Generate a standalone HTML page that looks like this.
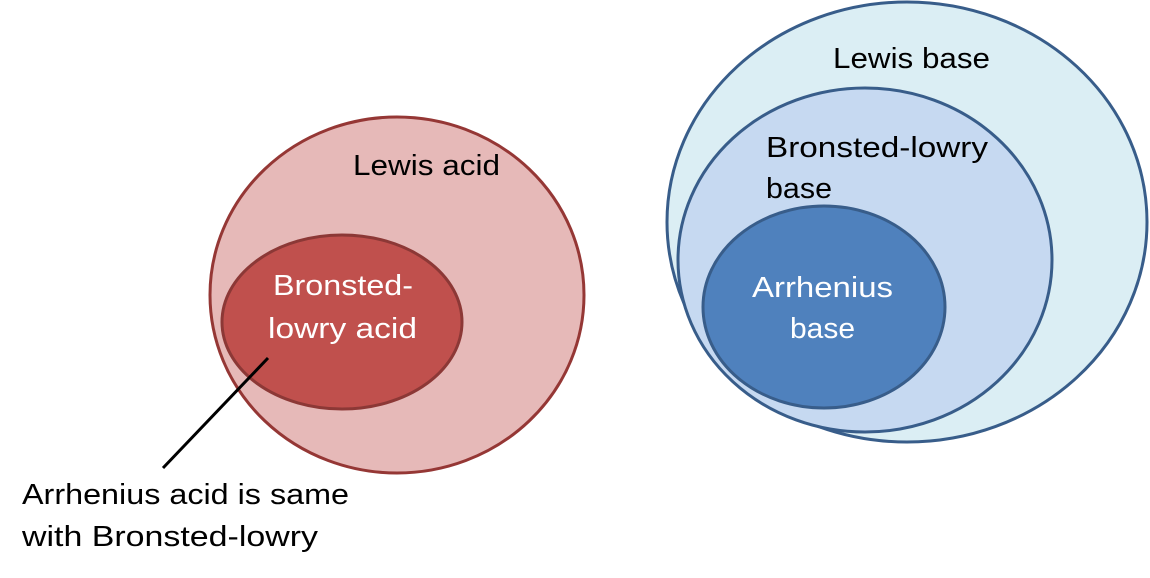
<!DOCTYPE html>
<html><head><meta charset="utf-8"><style>
html,body{margin:0;padding:0;background:#fff;}
svg{display:block;}
text{font-family:"Liberation Sans",sans-serif;font-size:29px;}
</style></head><body>
<svg width="1150" height="578" viewBox="0 0 1150 578">
<ellipse cx="397" cy="295" rx="187" ry="178" fill="#e6b9b8" stroke="#953735" stroke-width="3"/>
<ellipse cx="342" cy="322" rx="120" ry="87" fill="#c0504d" stroke="#8c3836" stroke-width="3"/>
<text x="353" y="175" textLength="147" lengthAdjust="spacingAndGlyphs" fill="#000">Lewis acid</text>
<text x="273" y="295" textLength="140" lengthAdjust="spacingAndGlyphs" fill="#fff">Bronsted-</text>
<text x="268" y="338" textLength="149" lengthAdjust="spacingAndGlyphs" fill="#fff">lowry acid</text>
<line x1="268" y1="358" x2="163" y2="468" stroke="#000" stroke-width="3"/>
<text x="22" y="504" textLength="327" lengthAdjust="spacingAndGlyphs" fill="#000">Arrhenius acid is same</text>
<text x="22" y="546" textLength="296" lengthAdjust="spacingAndGlyphs" fill="#000">with Bronsted-lowry</text>

<ellipse cx="907" cy="222" rx="240" ry="220" fill="#dbeef4" stroke="#385d8a" stroke-width="3"/>
<ellipse cx="865" cy="260" rx="187" ry="172" fill="#c6d9f1" stroke="#385d8a" stroke-width="3"/>
<ellipse cx="824" cy="307" rx="121" ry="101" fill="#4f81bd" stroke="#385d8a" stroke-width="3"/>
<text x="833" y="68" textLength="157" lengthAdjust="spacingAndGlyphs" fill="#000">Lewis base</text>
<text x="766" y="157" textLength="222" lengthAdjust="spacingAndGlyphs" fill="#000">Bronsted-lowry</text>
<text x="766" y="198" textLength="66" lengthAdjust="spacingAndGlyphs" fill="#000">base</text>
<text x="752" y="297" textLength="141" lengthAdjust="spacingAndGlyphs" fill="#fff">Arrhenius</text>
<text x="790" y="338" textLength="65" lengthAdjust="spacingAndGlyphs" fill="#fff">base</text>
</svg>
</body></html>
